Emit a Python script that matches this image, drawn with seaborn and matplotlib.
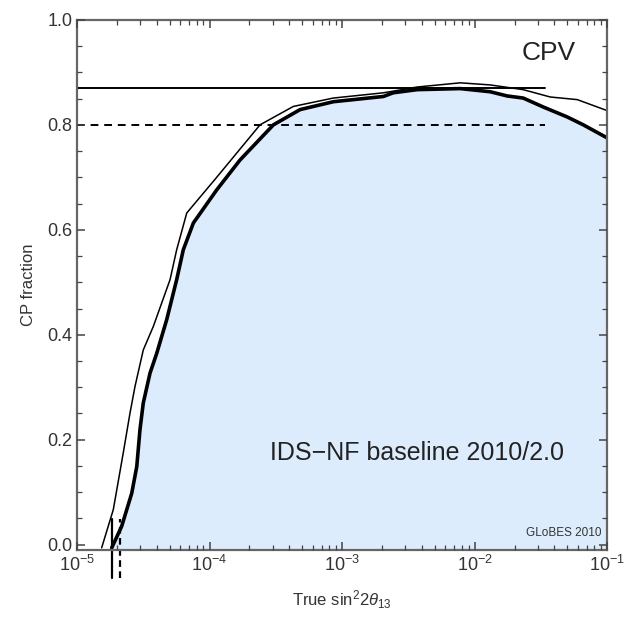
import numpy as np
import pandas as pd
import matplotlib
matplotlib.use("Agg")
import matplotlib.pyplot as plt
import matplotlib.ticker as mticker
import seaborn as sns

# ================= DATA =================
# log10(true sin^2 2theta13) and CP fraction
thick_log = [-4.738, -4.663, -4.587, -4.549, -4.525, -4.50, -4.449, -4.398,
             -4.323, -4.248, -4.198, -4.122, -3.946, -3.770, -3.518, -3.317,
             -3.066, -2.688, -2.615, -2.434, -2.109, -1.883, -1.755, -1.634,
             -1.483, -1.302, -1.181, -1.0]
thick_frac = [-0.006, 0.035, 0.098, 0.149, 0.219, 0.27, 0.327, 0.365,
              0.429, 0.505, 0.562, 0.613, 0.676, 0.733, 0.80, 0.829,
              0.844, 0.854, 0.861, 0.867, 0.869, 0.863, 0.855, 0.851,
              0.834, 0.815, 0.80, 0.775]

thin_log = [-4.814, -4.726, -4.651, -4.60, -4.562, -4.50, -4.424, -4.298,
            -4.248, -4.172, -3.946, -3.619, -3.368, -3.066, -2.688, -2.434,
            -2.109, -1.883, -1.634, -1.43, -1.226, -1.0]
thin_frac = [-0.006, 0.067, 0.175, 0.251, 0.302, 0.371, 0.416, 0.505,
             0.562, 0.632, 0.70, 0.80, 0.835, 0.851, 0.861, 0.872,
             0.88, 0.876, 0.867, 0.853, 0.848, 0.827]

cpv_solid = 0.87
cpv_dashed = 0.80
hline_end = 0.034
vline_solid = 1.84e-5
vline_dashed = 2.11e-5

thick_df = pd.DataFrame({"x": np.power(10.0, thick_log), "y": thick_frac})
thin_df = pd.DataFrame({"x": np.power(10.0, thin_log), "y": thin_frac})

# ================= STYLE =================
sns.set_style("ticks")
plt.rcParams["font.family"] = ["Liberation Sans", "DejaVu Sans"]
plt.rcParams["mathtext.fontset"] = "custom"
plt.rcParams["mathtext.rm"] = "Liberation Sans"
plt.rcParams["mathtext.it"] = "Liberation Sans:italic"

fig = plt.figure(figsize=(6.26, 6.20), dpi=100)
ax = fig.add_axes([0.123, 0.113, 0.847, 0.855])

# ================= PLOT =================
ax.fill_between(thick_df["x"], thick_df["y"], -0.05, color="#dcecfc", lw=0)

sns.lineplot(data=thin_df, x="x", y="y", ax=ax, color="black", lw=1.1,
             sort=False, estimator=None)
sns.lineplot(data=thick_df, x="x", y="y", ax=ax, color="black", lw=2.6,
             sort=False, estimator=None)

ax.plot([1e-5, hline_end], [cpv_solid, cpv_solid], color="black", lw=1.4)
ax.plot([1e-5, hline_end], [cpv_dashed, cpv_dashed], color="black", lw=1.4,
        ls=(0, (4, 3)))
ax.plot([vline_solid, vline_solid], [-0.063, 0.048], color="black", lw=1.6,
        clip_on=False)
ax.plot([vline_dashed, vline_dashed], [-0.063, 0.048], color="black", lw=1.6,
        ls=(0, (3, 2)), clip_on=False)

ax.set_xscale("log")
ax.set_xlim(1e-5, 1e-1)
ax.set_ylim(-0.01, 1.0)

ax.xaxis.set_major_locator(mticker.LogLocator(base=10, numticks=10))
ax.xaxis.set_minor_locator(mticker.LogLocator(base=10, subs=np.arange(2, 10), numticks=20))
ax.xaxis.set_major_formatter(mticker.FuncFormatter(
    lambda v, p: r"$10^{%d}$" % round(np.log10(v))))
ax.yaxis.set_major_locator(mticker.MultipleLocator(0.2))
ax.yaxis.set_minor_locator(mticker.MultipleLocator(0.05))
ax.yaxis.set_major_formatter(mticker.FormatStrFormatter("%.1f"))

ax.tick_params(which="both", direction="in", top=True, right=True,
               color="#444444", labelsize=13, labelcolor="#333333")
ax.tick_params(which="major", length=6, width=1.1)
ax.tick_params(which="minor", length=3.5, width=0.9)
ax.set_axisbelow(False)
for s in ax.spines.values():
    s.set_color("#666666")
    s.set_linewidth(1.6)

ax.set_xlabel(r"True sin$^2 2\theta_{13}$", fontsize=12, color="#333333", labelpad=10)
ax.set_ylabel("CP fraction", fontsize=12, color="#333333", labelpad=8)

ax.text(0.89, 0.938, "CPV", transform=ax.transAxes, fontsize=19,
        ha="center", va="center", color="#222222")
ax.text(0.641, 0.183, "IDS\u2212NF baseline 2010/2.0", transform=ax.transAxes,
        fontsize=18, ha="center", va="center", color="#222222")
ax.text(0.99, 0.032, "GLoBES 2010", transform=ax.transAxes, fontsize=8.5,
        ha="right", va="center", color="#333333")

plt.savefig("out.png", dpi=100)
